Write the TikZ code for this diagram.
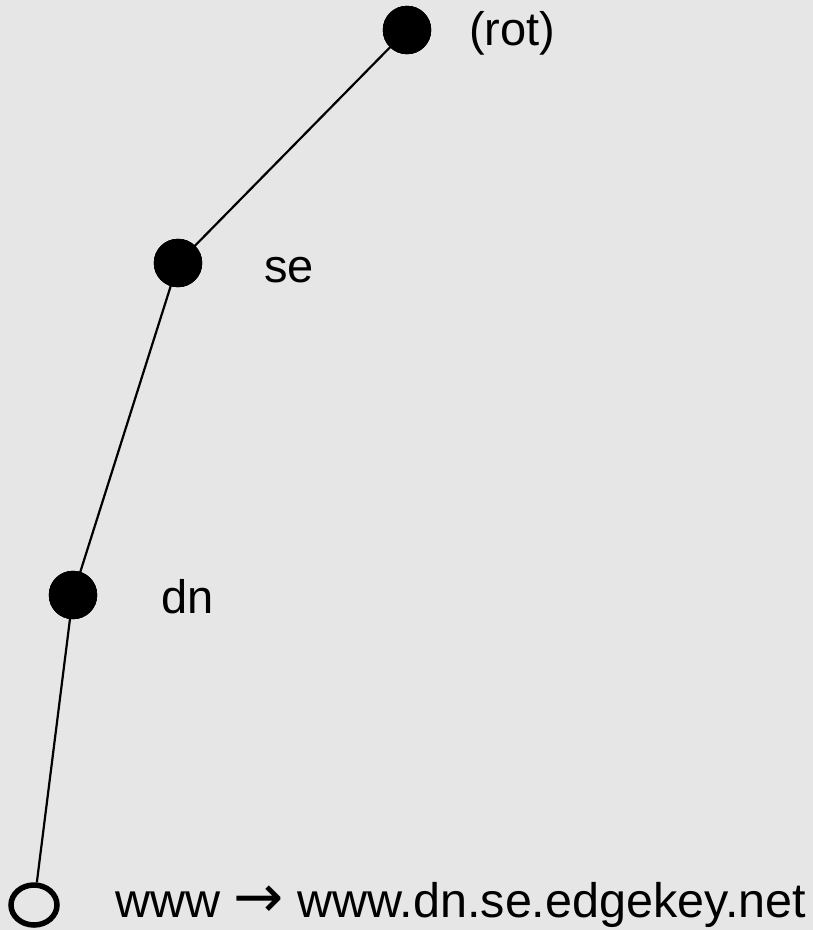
\documentclass[tikz,border=0pt]{standalone}
\usepackage{fontspec}
\usetikzlibrary{shapes.geometric}
\setmainfont{Liberation Sans}
\newfontfamily\symfont{DejaVu Sans}
\definecolor{bg}{HTML}{E6E6E6}
\begin{document}
\begin{tikzpicture}[x=1pt,y=-1pt,
  filled/.style={circle,fill=black,draw=black,minimum size=48pt,inner sep=0pt},
  lab/.style={anchor=base west,inner sep=0pt,font=\fontsize{47}{56}\selectfont},
  edge/.style={draw=black,line width=2.2pt}]
\fill[bg] (0,0) rectangle (813,930);
\useasboundingbox (0,0) rectangle (813,930);
\node[filled] (rot) at (407,30) {};
\node[filled] (se) at (178,263) {};
\node[filled] (dn) at (73,595) {};
\node[ellipse,draw=black,line width=5.5pt,minimum width=46pt,minimum height=40pt,inner sep=0pt] (www) at (34,905) {};
\draw[edge] (rot.center) -- (se.center);
\draw[edge] (se.center) -- (dn.center);
\draw[edge] (dn.center) -- (www);
\node[filled] at (rot) {};
\node[filled] at (se) {};
\node[filled] at (dn) {};
\node[lab] (lrot) at (469,45) {(rot)};
\node[lab] (lse) at (264,282) {se};
\node[lab] (ldn) at (161,613) {dn};
\node[lab,font=\fontsize{48.5}{58}\selectfont] (lwww) at (115,917) {www {\symfont\fontsize{60}{60}\selectfont →} www.dn.se.edgekey.net};
\end{tikzpicture}
\end{document}
